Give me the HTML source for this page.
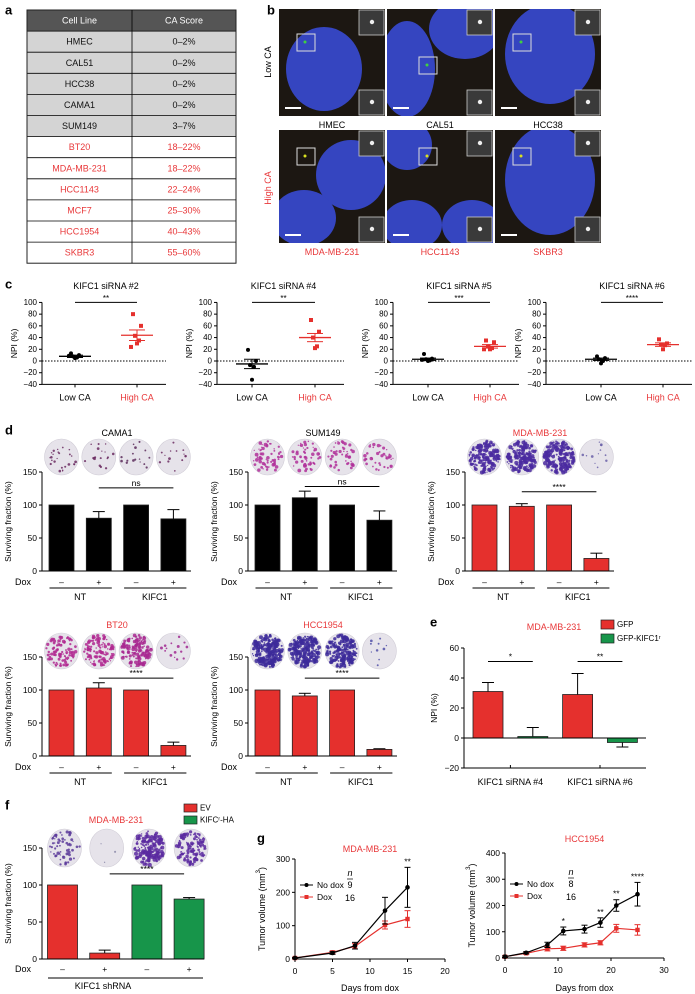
<!DOCTYPE html>
<html><head><meta charset="utf-8">
<style>
html,body{margin:0;padding:0;background:#fff;}
svg{display:block;font-family:"Liberation Sans",sans-serif;}
</style></head>
<body>
<svg id="fig" width="695" height="994" viewBox="0 0 695 994" xmlns="http://www.w3.org/2000/svg"></svg>
<script>
// ---------- DATA ----------
const tableRows = ['HMEC','CAL51','HCC38','CAMA1','SUM149','BT20','MDA-MB-231','HCC1143','MCF7','HCC1954','SKBR3'];
const tableScores = ['0–2%','0–2%','0–2%','0–2%','3–7%','18–22%','18–22%','22–24%','25–30%','40–43%','55–60%'];
const tableHigh = [0,0,0,0,0,1,1,1,1,1,1];

const cTitles = ['KIFC1 siRNA #2','KIFC1 siRNA #4','KIFC1 siRNA #5','KIFC1 siRNA #6'];
const cCats = ['Low CA','High CA'];
const cTicks = [100,80,60,40,20,0,-20,-40];
const cLowPts = [[13,10,8,6,5,9],[19,0,-7,-10,-32],[12,4,3,1,0,2],[8,5,3,0,-4]];
const cHighPts = [[80,60,43,35,30,24],[70,50,40,25,22],[35,32,25,22,20,20],[37,30,28,27,20]];
const cLowMean = [8,-5,3,3];
const cLowSem = [2,8,2,2];
const cHighMean = [44,40,25,28];
const cHighSem = [9,7,3,3];
const cSig = ['**','**','***','****'];

const dTitles = ['CAMA1','SUM149','MDA-MB-231','BT20','HCC1954'];
const dVals = [[100,80,100,79],[100,111,100,77],[100,98,100,19],[100,103,100,16],[100,91,100,10]];
const dErrs = [[0,10,0,14],[0,10,0,14],[0,4,0,8],[0,8,0,5],[0,4,0,1]];
const dSig = ['ns','ns','****','****','****'];
const dTicks = [0,50,100,150];
const doxSigns = ['–','+','–','+'];

const eCats = ['KIFC1 siRNA #4','KIFC1 siRNA #6'];
const eGFP = [31,29];
const eGFPErr = [6,14];
const eKIFC = [1,-3];
const eKIFCErr = [6,3];
const eSig = ['*','**'];
const eTicks = [-20,0,20,40,60];

const fVals = [100,8,100,81];
const fErrs = [0,4,0,2];
const fTicks = [0,50,100,150];

const g1Days = [0,5,8,12,15];
const g1NoDox = [3,18,40,145,215];
const g1NoDoxErr = [2,4,10,40,60];
const g1Dox = [3,20,38,102,120];
const g1DoxErr = [2,4,8,12,25];
const g1Sig = ['','','','','**'];
const g1XTicks = [0,5,10,15,20];
const g1YTicks = [0,100,200,300];

const g2Days = [0,4,8,11,15,18,21,25];
const g2NoDox = [5,20,50,103,110,135,200,243];
const g2NoDoxErr = [3,4,10,15,15,18,22,45];
const g2Dox = [5,18,35,37,50,58,113,107];
const g2DoxErr = [3,4,8,8,8,8,15,20];
const g2Sig = ['','','','*','','**','**','****'];
const g2XTicks = [0,10,20,30];
const g2YTicks = [0,100,200,300,400];

// ---------- HELPERS ----------
const NS='http://www.w3.org/2000/svg';
const svg=document.getElementById('fig');
const RED='#e5302d', GREEN='#17954a', REDTXT='#e8383a';
function el(tag,attrs,name,parent){
  const e=document.createElementNS(NS,tag);
  for(const k in attrs) e.setAttribute(k,attrs[k]);
  
  
  (parent||svg).appendChild(e);
  return e;
}
function txt(x,y,s,name,o){
  o=o||{};
  const a={x:x,y:y,'font-size':o.fs||8.5,'text-anchor':o.anchor||'middle',fill:o.fill||'#000','dominant-baseline':'central'};
  if(o.rot) a.transform='rotate(-90 '+x+' '+y+')';
  if(o.bold) a['font-weight']='bold';
  if(o.italic) a['font-style']='italic';
  const t=el('text',a,name);
  t.textContent=s;
  return t;
}
function line(x1,y1,x2,y2,name,o){
  o=o||{};
  return el('line',{x1:x1,y1:y1,x2:x2,y2:y2,stroke:o.stroke||'#000','stroke-width':o.w||1,'stroke-dasharray':o.dash||'none'},name);
}
// deterministic decoration generator (for plate/microscopy textures only)
let seed=7;
function rnd(){seed=(seed*9301+49297)%233280;return seed/233280;}

// ---------- PANEL A: table ----------
txt(5,10,'a','panel-label-a',{fs:13,bold:true,anchor:'start'});
(function(){
  const x0=27,x1=236,xm=132,y0=10,rh=21.1;
  el('rect',{x:x0,y:y0,width:x1-x0,height:rh,fill:'#555'},'table-header');
  txt((x0+xm)/2,y0+rh/2,'Cell Line','header-cell-line',{fill:'#fff',fs:9});
  txt((xm+x1)/2,y0+rh/2,'CA Score','header-ca-score',{fill:'#fff',fs:9});
  for(let i=0;i<tableRows.length;i++){
    const y=y0+rh*(i+1);
    el('rect',{x:x0,y:y,width:x1-x0,height:rh,fill:tableHigh[i]?'#fff':'#d4d4d4'},'table-row');
    const c=tableHigh[i]?REDTXT:'#111';
    txt((x0+xm)/2,y+rh/2,tableRows[i],'cell-line-name',{fill:c,fs:9});
    txt((xm+x1)/2,y+rh/2,tableScores[i],'ca-score-value',{fill:c,fs:9});
    line(x0,y,x1,y,'row-border',{w:0.8});
  }
  el('rect',{x:x0,y:y0,width:x1-x0,height:rh*12,fill:'none',stroke:'#222','stroke-width':1},'table-border');
  line(xm,y0,xm,y0+rh*12,'column-divider',{w:0.8});
})();

// ---------- PANEL B: microscopy ----------
txt(267,10,'b','panel-label-b',{fs:13,bold:true,anchor:'start'});
(function(){
  const xs=[279,387,495], w=106;
  const rows=[{y:9,h:107,labels:['HMEC','CAL51','HCC38'],col:'#000',ly:125},{y:130,h:113,labels:['MDA-MB-231','HCC1143','SKBR3'],col:REDTXT,ly:252}];
  const nuc=[[[45,60,38,42]],[[20,60,28,48],[78,20,36,30]],[[55,45,45,50]],
             [[72,45,35,35],[25,88,32,28]],[[20,15,25,25],[25,95,30,25],[85,95,30,25]],[[55,50,45,55]]];
  let k=0;
  rows.forEach((r,ri)=>{
    xs.forEach((x,ci)=>{
      const g=el('g',{},'micrograph');
      el('rect',{x:x,y:r.y,width:w,height:r.h,fill:'#1c1712'},'micrograph-bg',g);
      const cp=el('clipPath',{id:'cp'+k},'clip',g);
      el('rect',{x:x,y:r.y,width:w,height:r.h},'clip-rect',cp);
      const ng=el('g',{'clip-path':'url(#cp'+k+')'},'nuclei',g);
      nuc[k].forEach(n=>el('ellipse',{cx:x+n[0],cy:r.y+n[1],rx:n[2],ry:n[3],fill:'#3545c0'},'nucleus',ng));
      const bx=x+(ci===1?32:18), by=r.y+(ri===0?(ci===1?48:25):18);
      el('rect',{x:bx,y:by,width:18,height:17,fill:'none',stroke:'#ddd','stroke-width':1},'zoom-box',g);
      el('circle',{cx:bx+8,cy:by+8,r:1.5,fill:ri?'#d8e020':'#40d040'},'centrosome-dot',g);
      [r.y+1,r.y+r.h-26].forEach(iy=>{
        el('rect',{x:x+w-26,y:iy,width:25,height:25,fill:'#3a3a3a',stroke:'#ccc','stroke-width':0.8},'inset',g);
        el('circle',{cx:x+w-13,cy:iy+12,r:2.2,fill:'#eee'},'inset-spot',g);
      });
      line(x+6,r.y+r.h-8,x+22,r.y+r.h-8,'scale-bar',{stroke:'#fff',w:2});
      txt(x+w/2,r.ly,r.labels[ci],'cell-line-label',{fill:r.col,fs:9});
      k++;
    });
  });
  txt(268,62,'Low CA','low-ca-row-label',{rot:true,fs:9});
  txt(268,188,'High CA','high-ca-row-label',{rot:true,fs:9,fill:REDTXT});
})();

// ---------- PANEL C ----------
txt(5,284,'c','panel-label-c',{fs:13,bold:true,anchor:'start'});
(function(){
  const axisX=[42,217,393,546], lowX=[75,252,428,601], highX=[137,315,490,663];
  const yC=v=>361-v*0.5857;
  const jit=[-4,4,-2,2,0,-6];
  for(let p=0;p<4;p++){
    const ax=axisX[p], xEnd=highX[p]+29;
    txt((lowX[p]+highX[p])/2,286,cTitles[p],'chart-title',{fs:9});
    line(ax,yC(100),ax,yC(-40),'y-axis');
    line(ax,yC(-40),xEnd,yC(-40),'x-axis');
    cTicks.forEach(t=>{line(ax-3,yC(t),ax,yC(t),'y-tick');txt(ax-5,yC(t),(t<0?'−'+(-t):t),'y-tick-label',{anchor:'end',fs:8});});
    txt(ax-28,yC(30),'NPI (%)','y-axis-title',{rot:true,fs:8.5});
    line(ax,yC(0),xEnd,yC(0),'zero-line',{dash:'1.5,1.5'});
    [lowX[p],highX[p]].forEach((cx,i)=>{line(cx,yC(-40),cx,yC(-40)+3,'x-tick');
      txt(cx,yC(-40)+13,cCats[i],'x-tick-label',{fill:i?REDTXT:'#000',fs:9});});
    cLowPts[p].forEach((v,i)=>el('circle',{cx:lowX[p]+jit[i%6],cy:yC(v),r:2,fill:'#000'},'low-ca-point'));
    cHighPts[p].forEach((v,i)=>el('rect',{x:highX[p]+jit[i%6]-2,y:yC(v)-2,width:4,height:4,fill:RED},'high-ca-point'));
    [[lowX[p],cLowMean[p],cLowSem[p],'#000'],[highX[p],cHighMean[p],cHighSem[p],RED]].forEach(m=>{
      line(m[0]-16,yC(m[1]),m[0]+16,yC(m[1]),'mean-line',{stroke:m[3],w:1.3});
      line(m[0]-8,yC(m[1]+m[2]),m[0]+8,yC(m[1]+m[2]),'sem-cap',{stroke:m[3]});
      line(m[0]-8,yC(m[1]-m[2]),m[0]+8,yC(m[1]-m[2]),'sem-cap',{stroke:m[3]});
      line(m[0],yC(m[1]-m[2]),m[0],yC(m[1]+m[2]),'sem-bar',{stroke:m[3]});
    });
    line(lowX[p],yC(100),highX[p],yC(100),'significance-line');
    txt((lowX[p]+highX[p])/2,yC(100)-4,cSig[p],'significance-stars',{fs:8});
  }
})();

// ---------- PLATES ----------
function plates(cxs,cy,rx,ry,specs){
  cxs.forEach((cx,i)=>{
    const s=specs[i];
    const g=el('g',{},'colony-plate');
    el('ellipse',{cx:cx,cy:cy,rx:rx,ry:ry,fill:'#e6e3ea',stroke:'#d0ccd6','stroke-width':0.6},'plate-dish',g);
    for(let j=0;j<s[1];j++){
      const a=rnd()*6.283, r=Math.sqrt(rnd())*0.9;
      el('circle',{cx:cx+Math.cos(a)*r*rx,cy:cy+Math.sin(a)*r*ry,r:0.6+rnd()*s[2],fill:s[0],opacity:0.85},'colony',g);
    }
  });
}

// ---------- PANEL D ----------
txt(5,430,'d','panel-label-d',{fs:13,bold:true,anchor:'start'});
function barChart(o){
  const ax=o.ax, bw=o.bw, yv=v=>o.y0-v*o.k;
  const cx=i=>ax+o.off+i*o.step;
  o.vals.forEach((v,i)=>{
    const col=o.colors[i];
    const top=Math.min(yv(v),yv(0)), h=Math.abs(yv(v)-yv(0));
    el('rect',{x:cx(i)-bw/2,y:top,width:bw,height:h,fill:col,stroke:'#222','stroke-width':0.8},'bar');
    if(o.errs[i]>0){
      const e=v>=0?v+o.errs[i]:v-o.errs[i];
      line(cx(i),yv(v),cx(i),yv(e),'error-bar');
      line(cx(i)-6,yv(e),cx(i)+6,yv(e),'error-cap');
    }
  });
  line(ax,yv(o.ticks[o.ticks.length-1]),ax,yv(o.ticks[0]),'y-axis');
  line(ax,yv(o.base),ax+o.width,yv(o.base),'x-axis');
  o.ticks.forEach(t=>{line(ax-3,yv(t),ax,yv(t),'y-tick');txt(ax-5,yv(t),(t<0?'−'+(-t):t),'y-tick-label',{anchor:'end',fs:8.5});});
  txt(ax-34+(o.ylx||0),(yv(o.ticks[0])+yv(o.ticks[o.ticks.length-1]))/2,o.ylabel,'y-axis-title',{rot:true,fs:8.5});
  return {cx:cx,yv:yv};
}
(function(){
  const axes=[42,248,465,42,248];
  const y0s=[571,571,571,756,756];
  const cols=[['#000','#000','#000','#000'],['#000','#000','#000','#000'],[RED,RED,RED,RED],[RED,RED,RED,RED],[RED,RED,RED,RED]];
  const titleY=[433,433,433,625,625];
  const plateY=[457,457,457,651,651];
  const sigV=[126,128,120,118,118];
  const plateSpecs=[
    [['#6a2a60',25,0.8],['#6a2a60',18,0.8],['#5a2a5a',16,0.8],['#6a2a60',14,0.8]],
    [['#b0309a',60,1.4],['#b0309a',55,1.3],['#b0309a',45,1.2],['#b0309a',40,1.2]],
    [['#4a2aa0',160,1.5],['#4a2aa0',160,1.5],['#4a2aa0',180,1.6],['#6a60a8',12,0.8]],
    [['#b02890',90,1.2],['#b02890',110,1.3],['#a82890',140,1.3],['#a02890',15,0.9]],
    [['#3c2a9a',200,1.6],['#3c2a9a',190,1.6],['#3c2a9a',180,1.6],['#5050a8',10,0.8]]];
  for(let p=0;p<5;p++){
    const ax=axes[p];
    const r=barChart({ax:ax,y0:y0s[p],k:0.66,bw:25,off:19.5,step:37.3,vals:dVals[p],errs:dErrs[p],colors:cols[p],ticks:dTicks,base:0,width:149,ylabel:'Surviving fraction (%)'});
    const tcol=p>=2?REDTXT:'#000';
    txt(ax+75,titleY[p],dTitles[p],'chart-title',{fill:tcol,fs:9});
    plates([0,1,2,3].map(i=>r.cx(i)),plateY[p],17,18,plateSpecs[p]);
    const sy=r.yv(sigV[p]);
    line(r.cx(1),sy,r.cx(3),sy,'significance-line');
    txt((r.cx(1)+r.cx(3))/2,sy-5,dSig[p],'significance-label',{fs:8.5});
    const dy=y0s[p]+11;
    txt(ax-19,dy,'Dox','dox-label',{fs:9});
    doxSigns.forEach((s,i)=>txt(r.cx(i),dy,s,'dox-sign',{fs:8.5}));
    line(r.cx(0)-12,dy+6,r.cx(1)+13,dy+6,'nt-group-line');
    line(r.cx(2)-12,dy+6,r.cx(3)+13,dy+6,'kifc1-group-line');
    txt((r.cx(0)+r.cx(1))/2,dy+15,'NT','nt-group-label',{fs:9});
    txt((r.cx(2)+r.cx(3))/2,dy+15,'KIFC1','kifc1-group-label',{fs:9});
  }
})();

// ---------- PANEL E ----------
txt(430,622,'e','panel-label-e',{fs:13,bold:true,anchor:'start'});
(function(){
  const vals=[eGFP[0],eKIFC[0],eGFP[1],eKIFC[1]];
  const errs=[eGFPErr[0],eKIFCErr[0],eGFPErr[1],eKIFCErr[1]];
  const r=barChart({ax:464,y0:738,k:1.5,bw:30,off:24,step:44.8,vals:vals,errs:errs,colors:[RED,GREEN,RED,GREEN],ticks:eTicks,base:0,width:182,ylabel:'NPI (%)',ylx:4});
  line(464,r.yv(-20),646,r.yv(-20),'bottom-axis');
  [0,1].forEach(i=>{
    const cx=(r.cx(2*i)+r.cx(2*i+1))/2;
    line(cx,r.yv(-20),cx,r.yv(-20)-3,'x-tick');
    txt(cx,782,eCats[i],'x-tick-label',{fs:9});
    const sy=r.yv(51);
    line(r.cx(2*i),sy,r.cx(2*i+1),sy,'significance-line');
    txt((r.cx(2*i)+r.cx(2*i+1))/2,sy-5,eSig[i],'significance-stars',{fs:8.5});
  });
  txt(554,627,'MDA-MB-231','chart-title',{fill:REDTXT,fs:9});
  el('rect',{x:601,y:620,width:13,height:9,fill:RED,stroke:'#222','stroke-width':0.7},'legend-swatch-gfp');
  txt(617,624.5,'GFP','legend-label-gfp',{anchor:'start',fs:8});
  el('rect',{x:601,y:634,width:13,height:9,fill:GREEN,stroke:'#222','stroke-width':0.7},'legend-swatch-gfp-kifc1');
  txt(617,638.5,'GFP-KIFC1ʳ','legend-label-gfp-kifc1',{anchor:'start',fs:8});
})();

// ---------- PANEL F ----------
txt(5,805,'f','panel-label-f',{fs:13,bold:true,anchor:'start'});
(function(){
  const r=barChart({ax:42,y0:959,k:0.74,bw:30,off:20.5,step:42.2,vals:fVals,errs:fErrs,colors:[RED,RED,GREEN,GREEN],ticks:fTicks,base:0,width:162,ylabel:'Surviving fraction (%)'});
  txt(116,820,'MDA-MB-231','chart-title',{fill:REDTXT,fs:9});
  el('rect',{x:184,y:804,width:13,height:8,fill:RED,stroke:'#222','stroke-width':0.7},'legend-swatch-ev');
  txt(200,808,'EV','legend-label-ev',{anchor:'start',fs:8});
  el('rect',{x:184,y:816,width:13,height:8,fill:GREEN,stroke:'#222','stroke-width':0.7},'legend-swatch-kifc1-ha');
  txt(200,820,'KIFCʳ-HA','legend-label-kifc1-ha',{anchor:'start',fs:8});
  plates([0,1,2,3].map(i=>r.cx(i)+2),848,17,19,[['#5a3a9a',60,1.1],['#8a88a8',3,0.5],['#5a2aa0',170,1.5],['#5a2aa0',130,1.3]]);
  const sy=r.yv(115);
  line(r.cx(1)+5,sy,r.cx(3)-5,sy,'significance-line');
  txt((r.cx(1)+r.cx(3))/2,sy-5,'****','significance-stars',{fs:8.5});
  txt(23,969,'Dox','dox-label',{fs:9});
  doxSigns.forEach((s,i)=>txt(r.cx(i),969,s,'dox-sign',{fs:8.5}));
  line(48,978,203,978,'shrna-group-line');
  txt(103,986,'KIFC1 shRNA','shrna-group-label',{fs:9});
})();

// ---------- PANEL G ----------
txt(257,838,'g','panel-label-g',{fs:13,bold:true,anchor:'start'});
function lineChart(o){
  const xv=d=>o.ax+d*o.kx, yv=v=>o.y0-v*o.ky;
  line(o.ax,yv(o.yt[o.yt.length-1]),o.ax,yv(0),'y-axis');
  line(o.ax,yv(0),xv(o.xt[o.xt.length-1]),yv(0),'x-axis');
  o.yt.forEach(t=>{line(o.ax-3,yv(t),o.ax,yv(t),'y-tick');txt(o.ax-5,yv(t),t,'y-tick-label',{anchor:'end',fs:8.5});});
  o.xt.forEach(t=>{line(xv(t),yv(0),xv(t),yv(0)+3,'x-tick');txt(xv(t),yv(0)+12,t,'x-tick-label',{fs:8.5});});
  txt((o.ax+xv(o.xt[o.xt.length-1]))/2,988,'Days from dox','x-axis-title',{fs:9});
  const yl=txt(o.ax-33,(yv(0)+yv(o.yt[o.yt.length-1]))/2,'','y-axis-title',{rot:true,fs:9});
  yl.textContent='Tumor volume (mm';
  const sup=el('tspan',{'baseline-shift':'super','font-size':6},'superscript',yl);
  sup.textContent='3';
  const rest=el('tspan',{},'paren',yl); rest.textContent=')';
  [[o.dox,o.doxE,RED,'dox-series'],[o.nod,o.nodE,'#000','no-dox-series']].forEach(s=>{
    el('polyline',{points:o.days.map((d,i)=>xv(d)+','+yv(s[0][i])).join(' '),fill:'none',stroke:s[2],'stroke-width':1.2},s[3]+'-line');
    o.days.forEach((d,i)=>{
      line(xv(d),yv(s[0][i]-s[1][i]),xv(d),yv(s[0][i]+s[1][i]),'error-bar',{stroke:s[2]});
      line(xv(d)-3,yv(s[0][i]+s[1][i]),xv(d)+3,yv(s[0][i]+s[1][i]),'error-cap',{stroke:s[2]});
      line(xv(d)-3,yv(s[0][i]-s[1][i]),xv(d)+3,yv(s[0][i]-s[1][i]),'error-cap',{stroke:s[2]});
      if(s[2]==='#000') el('circle',{cx:xv(d),cy:yv(s[0][i]),r:2.3,fill:'#000'},'no-dox-point');
      else el('rect',{x:xv(d)-2.2,y:yv(s[0][i])-2.2,width:4.4,height:4.4,fill:RED},'dox-point');
    });
  });
  o.days.forEach((d,i)=>{ if(o.sig[i]) txt(xv(d),yv(o.nod[i]+o.nodE[i])-6,o.sig[i],'significance-stars',{fs:8.5}); });
  txt((o.ax+xv(o.xt[o.xt.length-1]))/2,o.ty,o.title,'chart-title',{fill:REDTXT,fs:9});
  const lx=o.ax+5;
  line(lx,o.ly,lx+13,o.ly,'legend-line-no-dox');
  el('circle',{cx:lx+6.5,cy:o.ly,r:2,fill:'#000'},'legend-marker-no-dox');
  txt(lx+17,o.ly,'No dox','legend-label-no-dox',{anchor:'start',fs:8.5});
  line(lx,o.ly+12,lx+13,o.ly+12,'legend-line-dox',{stroke:RED});
  el('rect',{x:lx+4.5,y:o.ly+10,width:4,height:4,fill:RED},'legend-marker-dox');
  txt(lx+17,o.ly+12,'Dox','legend-label-dox',{anchor:'start',fs:8.5});
  txt(o.nx,o.ly-12,'n','n-header',{italic:true,fs:9});
  line(o.nx-3,o.ly-6,o.nx+3,o.ly-6,'n-underline',{w:0.7});
  txt(o.nx,o.ly,o.n[0],'n-no-dox',{fs:9});
  txt(o.nx,o.ly+13,o.n[1],'n-dox',{fs:9});
}
lineChart({ax:295,kx:7.5,y0:959,ky:0.3333,xt:g1XTicks,yt:g1YTicks,days:g1Days,nod:g1NoDox,nodE:g1NoDoxErr,dox:g1Dox,doxE:g1DoxErr,sig:g1Sig,title:'MDA-MB-231',ty:849,ly:885,nx:350,n:['9','16']});
lineChart({ax:505,kx:5.3,y0:958,ky:0.2625,xt:g2XTicks,yt:g2YTicks,days:g2Days,nod:g2NoDox,nodE:g2NoDoxErr,dox:g2Dox,doxE:g2DoxErr,sig:g2Sig,title:'HCC1954',ty:839,ly:884,nx:571,n:['8','16']});
</script>
</body></html>
